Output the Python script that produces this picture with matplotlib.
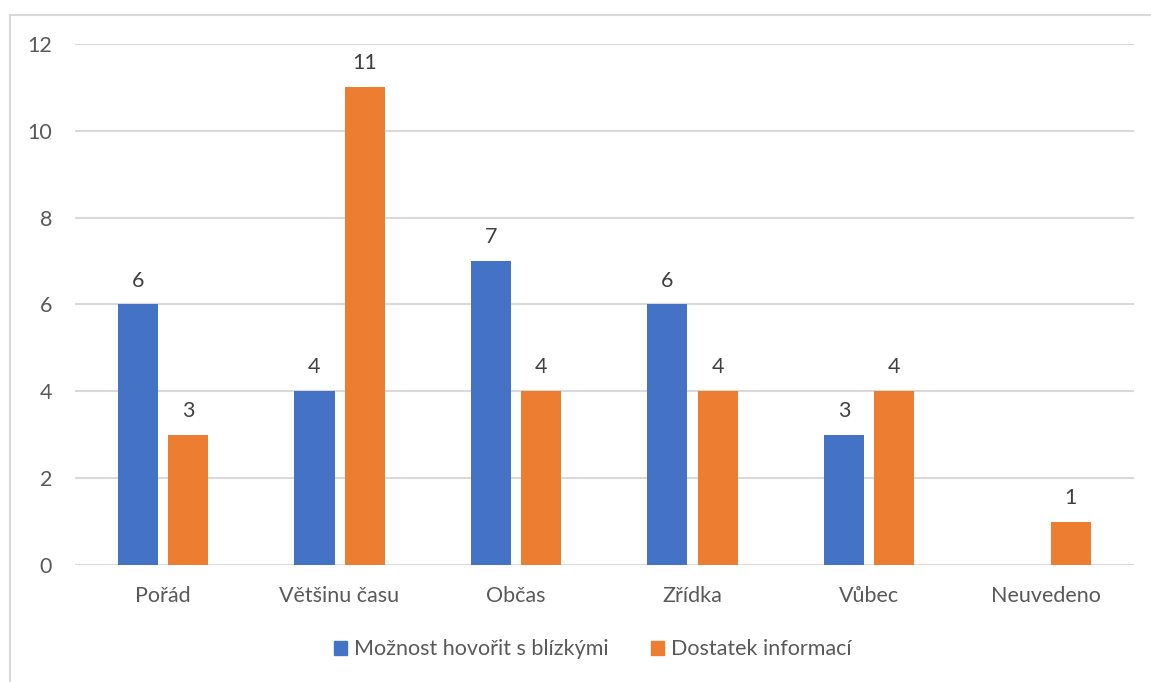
import numpy as np
import matplotlib.pyplot as plt
from matplotlib.lines import Line2D
from matplotlib.patches import Patch

# Odpovědi podle četnosti
categories = ["Pořád", "Většinu času", "Občas", "Zřídka", "Vůbec", "Neuvedeno"]
moznost_hovorit = [6, 4, 7, 6, 3, 0]
dostatek_informaci = [3, 11, 4, 4, 4, 1]
series_names = ["Možnost hovořit s blízkými", "Dostatek informací"]
y_ticks = [0, 2, 4, 6, 8, 10, 12]

BLUE = "#4472C4"
ORANGE = "#ED7D31"
GRID = "#D9D9D9"
TEXT = "#595959"
FS = 15.5

plt.rcParams['font.family'] = ['Lato', 'DejaVu Sans']

fig = plt.figure(figsize=(11.51, 6.82), dpi=100)
ax = fig.add_axes([0.065, 0.1716, 0.92, 0.764])

x = np.arange(len(categories))
width = 0.227
offset = 0.142

bars1 = ax.bar(x - offset, moznost_hovorit, width, color=BLUE, zorder=3)
bars2 = ax.bar(x + offset, dostatek_informaci, width, color=ORANGE, zorder=3)

# popisky hodnot nad sloupci (nulové se nezobrazují)
for bars, vals in ((bars1, moznost_hovorit), (bars2, dostatek_informaci)):
    for b, v in zip(bars, vals):
        if v == 0:
            continue
        ax.annotate(str(v), (b.get_x() + b.get_width() / 2, v),
                    xytext=(0, 10), textcoords="offset points",
                    ha="center", va="bottom", fontsize=FS, color="#404040")

ax.set_xlim(-0.5, len(categories) - 0.5)
ax.set_ylim(0, 12)
ax.set_yticks(y_ticks)
ax.set_xticks(x)
ax.set_xticklabels(categories)
ax.tick_params(axis="both", length=0, labelsize=FS, labelcolor=TEXT)
ax.tick_params(axis="y", pad=16.5)
ax.tick_params(axis="x", pad=15)
ax.yaxis.grid(True, color=GRID, linewidth=1.5, zorder=0)
for s in ax.spines.values():
    s.set_visible(False)

handles = [Patch(color=BLUE), Patch(color=ORANGE)]
fig.legend(handles, series_names, loc="center", bbox_to_anchor=(0.515, 0.048),
           ncol=2, frameon=False, fontsize=FS, labelcolor=TEXT,
           handlelength=0.6, handleheight=0.6, handletextpad=0.3, columnspacing=2.0)

# tenký rámeček grafu nahoře a vlevo
fig.add_artist(Line2D([0.009, 1.0], [0.978, 0.978], color=GRID, linewidth=1.5,
                      transform=fig.transFigure))
fig.add_artist(Line2D([0.009, 0.009], [0.0, 0.978], color=GRID, linewidth=1.5,
                      transform=fig.transFigure))

fig.savefig("out.png", dpi=100, facecolor="white")
